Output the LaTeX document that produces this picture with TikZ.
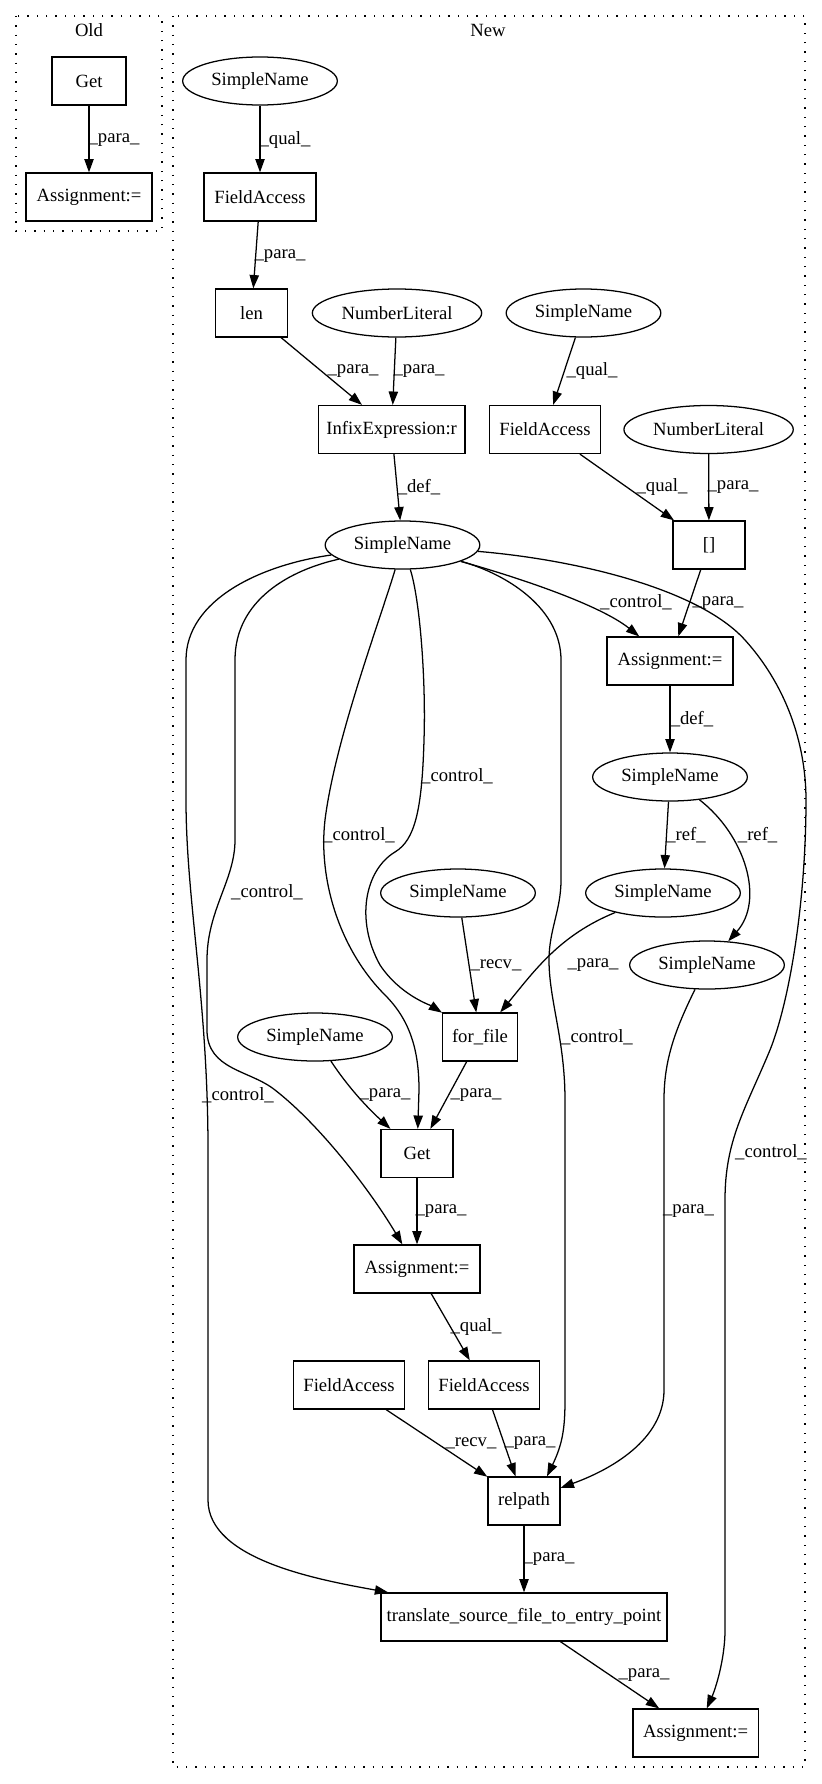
\documentclass[tikz,border=0pt]{standalone}
\usepackage{fontspec}
\setmainfont{Liberation Serif}
\usetikzlibrary{shapes.geometric,arrows.meta}
\begin{document}
\begin{tikzpicture}[x=0.75pt,y=-0.75pt,
  font=\fontsize{14pt}{16pt}\selectfont,
  every path/.style={line width=0.95pt},
  box/.style={draw, rectangle, minimum height=36pt, inner sep=0pt},
  ell/.style={draw, ellipse, minimum height=36pt, minimum width=116pt, inner sep=0pt},
  lab/.style={inner sep=0pt},
  edge/.style={draw, -{Triangle[length=10pt,width=7pt]}},
  clus/.style={draw, dash pattern=on 0.9pt off 6.1pt}]
\useasboundingbox (0,0) rectangle (821,1784);
% clusters
\draw[clus] (16,16) rectangle (162,231);
\draw[clus] (173,16) rectangle (805,1767);
\node[lab] (tOld) at (89,30) {Old};
\node[lab] (tNew) at (488,30) {New};
% Old
\node[box, minimum width=55.5pt] (oGet) at (89,81) {Get};
\node[box, minimum width=94.5pt] (oAsg) at (89,197) {Assignment:=};
% New nodes
\node[ell] (sn1) at (260,81) {SimpleName};
\node[box, minimum width=84pt] (fa1) at (260,197) {FieldAccess};
\node[box, minimum width=54pt] (len) at (251.5,313) {len};
\node[ell, minimum width=127pt] (nl1) at (397,313) {NumberLiteral};
\node[ell] (sn2) at (583.5,313) {SimpleName};
\node[box, minimum width=110pt] (inf) at (391.6,429.5) {InfixExpression:r};
\node[box, minimum width=83pt] (fa2) at (545,429.5) {FieldAccess};
\node[ell, minimum width=127pt] (nl2) at (708.6,429.5) {NumberLiteral};
\node[box, minimum width=54pt] (br) at (709,545) {[]};
\node[ell] (sn3) at (402.5,545) {SimpleName};
\node[box, minimum width=94.5pt] (asg2) at (670,661) {Assignment:=};
\node[ell] (sn4) at (670,777) {SimpleName};
\node[ell] (sn5) at (663,893) {SimpleName};
\node[ell] (sn6) at (707,965) {SimpleName};
\node[ell] (sn7) at (458,893) {SimpleName};
\node[box, minimum width=56pt] (ff) at (480,1037) {for\_file};
\node[ell] (sn8) at (315,1037) {SimpleName};
\node[box, minimum width=54pt] (get) at (417,1153.5) {Get};
\node[box, minimum width=94.5pt] (asg3) at (417,1269) {Assignment:=};
\node[box, minimum width=83pt] (fa3) at (349,1385) {FieldAccess};
\node[box, minimum width=83pt] (fa4) at (484,1385) {FieldAccess};
\node[box, minimum width=54pt] (rel) at (524,1501) {relpath};
\node[box, minimum width=214.5pt] (tr) at (524,1617) {translate\_source\_file\_to\_entry\_point};
\node[box, minimum width=94pt] (asg4) at (695.6,1733) {Assignment:=};
% straight edges
\draw[edge] (oGet) -- (oAsg);
\draw[edge] (sn1) -- (fa1);
\draw[edge] (fa1) -- (len);
\draw[edge] (len) -- (inf);
\draw[edge] (nl1) -- (inf);
\draw[edge] (sn2) -- (fa2);
\draw[edge] (inf) -- (sn3);
\draw[edge] (fa2) -- (br);
\draw[edge] (nl2) -- (br);
\draw[edge] (br) -- (asg2);
\draw[edge] (asg2) -- (sn4);
\draw[edge] (sn4) -- (sn5);
\draw[edge] (sn7) -- (ff);
\draw[edge] (ff) -- (get);
\draw[edge] (get) -- (asg3);
\draw[edge] (asg3) -- (fa4);
\draw[edge] (fa3) -- (rel);
\draw[edge] (fa4) -- (rel);
\draw[edge] (rel) -- (tr);
\draw[edge] (tr) -- (asg4);
% curved edges
\draw[edge] (sn8) .. controls (350,1090) and (370,1110) .. (get);
\draw[edge] (sn4) .. controls (745,835) and (765,900) .. (sn6);
\draw[edge] (sn5) .. controls (560,935) and (535,970) .. (ff);
\draw[edge] (sn6) .. controls (675,1030) and (664,1060) .. (664,1100) -- (664,1390) .. controls (664,1440) and (610,1470) .. (rel);
% control edges from sn3
\draw[edge] (sn3) .. controls (520,578) and (600,605) .. (asg2);
\draw[edge] (sn3) .. controls (420,600) and (426,680) .. (424,740) .. controls (422,810) and (415,840) .. (395,852) .. controls (365,870) and (355,920) .. (380,965) .. controls (400,995) and (430,1005) .. (ff);
\draw[edge] (sn3) .. controls (380,620) and (335,740) .. (325,820) .. controls (318,880) and (340,950) .. (385,995) .. controls (410,1020) and (419,1050) .. (419,1090) -- (get);
\draw[edge] (sn3) .. controls (290,570) and (235,600) .. (235,660) -- (235,840) .. controls (235,880) and (207,910) .. (207,960) -- (207,1030) .. controls (207,1070) and (250,1070) .. (275,1090) .. controls (320,1125) and (370,1190) .. (asg3);
\draw[edge] (sn3) .. controls (260,565) and (186,600) .. (186,660) -- (186,800) .. controls (186,900) and (208,1000) .. (208,1150) -- (208,1500) .. controls (208,1560) and (320,1580) .. (tr);
\draw[edge] (sn3) .. controls (510,575) and (561,610) .. (561,660) -- (561,880) .. controls (561,910) and (549,930) .. (549,960) .. controls (549,1000) and (565,1040) .. (565,1100) -- (565,1400) .. controls (565,1430) and (562,1445) .. ([xshift=17.25pt]rel.north);
\draw[edge] (sn3) .. controls (580,560) and (700,590) .. (745,640) .. controls (790,690) and (806,750) .. (806,800) .. controls (806,900) and (790,1000) .. (770,1050) .. controls (745,1110) and (725,1140) .. (725,1200) -- (725,1630) .. controls (725,1660) and (715,1690) .. (asg4);
% labels
\node[lab] (l1) at (114,140) {\_para\_};
\node[lab] (l2) at (285,140) {\_qual\_};
\node[lab] (l3) at (280,256) {\_para\_};
\node[lab] (l4) at (353,371) {\_para\_};
\node[lab] (l5) at (419,371) {\_para\_};
\node[lab] (l6) at (592,371) {\_qual\_};
\node[lab] (l7) at (419,487) {\_def\_};
\node[lab] (l8) at (662,487) {\_qual\_};
\node[lab] (l9) at (733,487) {\_para\_};
\node[lab] (l10) at (636,602.6) {\_control\_};
\node[lab] (l11) at (718,602.6) {\_para\_};
\node[lab] (l12) at (692,719) {\_def\_};
\node[lab] (l13) at (457,776) {\_control\_};
\node[lab] (l14) at (686,835) {\_ref\_};
\node[lab] (l15) at (757.6,835) {\_ref\_};
\node[lab] (l16) at (359,835) {\_control\_};
\node[lab] (l17) at (267,892) {\_control\_};
\node[lab] (l18) at (496,965) {\_recv\_};
\node[lab] (l19) at (593,965) {\_para\_};
\node[lab] (l20) at (597,1037) {\_control\_};
\node[lab] (l21) at (238,1095) {\_control\_};
\node[lab] (l22) at (385,1095) {\_para\_};
\node[lab] (l23) at (476,1095) {\_para\_};
\node[lab] (l24) at (771,1152) {\_control\_};
\node[lab] (l25) at (441,1211.5) {\_para\_};
\node[lab] (l26) at (688.5,1211.5) {\_para\_};
\node[lab] (l27) at (476,1327) {\_qual\_};
\node[lab] (l28) at (471,1443) {\_recv\_};
\node[lab] (l29) at (530,1443) {\_para\_};
\node[lab] (l30) at (549,1559) {\_para\_};
\node[lab] (l31) at (644,1675) {\_para\_};
\end{tikzpicture}
\end{document}
